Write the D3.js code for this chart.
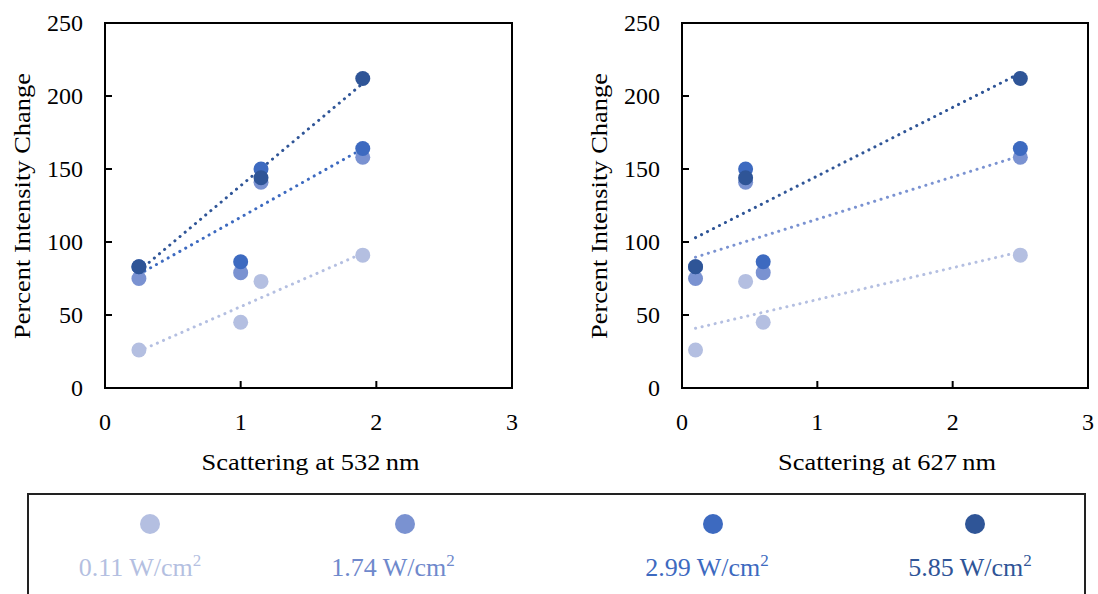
<!DOCTYPE html>
<html>
<head>
  <meta charset="utf-8">
  <script src="https://cdn.jsdelivr.net/npm/d3@7"></script>
  <style>
    body { margin: 0; background: #fff; }
    text { font-family: "Liberation Serif", "Times New Roman", serif; }
  </style>
</head>
<body>
<script>
  // Sample scattering values (x) for each of the four samples
  var x532 = [0.25, 1.0, 1.15, 1.9];
  var x627 = [0.1, 0.6, 0.47, 2.5];

  // Percent intensity change per irradiance (one value per sample)
  var labels = ['0.11', '1.74', '2.99', '5.85'];
  var v011 = [26, 45, 73, 91];
  var v174 = [75, 79, 141, 158];
  var v299 = [83, 86.5, 150, 164];
  var v585 = [83, null, 144, 212];

  var yTicks = [0, 50, 100, 150, 200, 250];
  var xTicks = [0, 1, 2, 3];

  var colors = ['#b4bfe1', '#7a92d1', '#3d6ac0', '#2f5597'];
  var textColors = ['#b4bfe1', '#6f89cc', '#3d6ac0', '#2f5597'];
  var seriesVals = [v011, v174, v299, v585];

  var svg = d3.select('body').append('svg')
    .attr('width', 1098).attr('height', 594);

  svg.append('rect').attr('width', 1098).attr('height', 594).attr('fill', '#fff');

  // least squares line through the non-missing points
  function fit(xs, ys) {
    var pts = xs.map(function(x, i) { return [x, ys[i]]; })
      .filter(function(p) { return p[1] != null; });
    var mx = d3.mean(pts, function(p) { return p[0]; }),
        my = d3.mean(pts, function(p) { return p[1]; });
    var sxy = d3.sum(pts, function(p) { return (p[0] - mx) * (p[1] - my); }),
        sxx = d3.sum(pts, function(p) { return (p[0] - mx) * (p[0] - mx); });
    var b = sxy / sxx, a = my - b * mx;
    var x0 = d3.min(pts, function(p) { return p[0]; }),
        x1 = d3.max(pts, function(p) { return p[0]; });
    return [[x0, a + b * x0], [x1, a + b * x1]];
  }

  function panel(left, right, xs, title, trendSeries) {
    var x = d3.scaleLinear().domain([0, 3]).range([left, right]);
    var y = d3.scaleLinear().domain([0, 250]).range([388, 23]);
    var g = svg.append('g');

    // tick labels
    g.selectAll('.yl').data(yTicks).enter().append('text')
      .attr('x', left - 22).attr('y', function(d) { return y(d) + 8; })
      .attr('text-anchor', 'end').style('font-size', '24px')
      .text(function(d) { return d; });
    g.selectAll('.xl').data(xTicks).enter().append('text')
      .attr('x', function(d) { return x(d); }).attr('y', 430)
      .attr('text-anchor', 'middle').style('font-size', '24px')
      .text(function(d) { return d; });

    // inner ticks
    g.selectAll('.yt').data(yTicks.slice(1, -1)).enter().append('line')
      .attr('x1', left).attr('x2', left + 7)
      .attr('y1', function(d) { return y(d); }).attr('y2', function(d) { return y(d); })
      .attr('stroke', '#000').attr('stroke-width', 2);
    g.selectAll('.xt').data(xTicks.slice(1, -1)).enter().append('line')
      .attr('x1', function(d) { return x(d); }).attr('x2', function(d) { return x(d); })
      .attr('y1', 388).attr('y2', 381)
      .attr('stroke', '#000').attr('stroke-width', 2);

    // axis titles
    g.append('text')
      .attr('transform', 'translate(' + (left - 75) + ',206) rotate(-90)')
      .attr('text-anchor', 'middle').style('font-size', '24px')
      .attr('textLength', 266).attr('lengthAdjust', 'spacingAndGlyphs')
      .text('Percent Intensity Change');
    g.append('text')
      .attr('x', (left + right) / 2 + 2).attr('y', 470)
      .attr('text-anchor', 'middle').style('font-size', '24px')
      .attr('textLength', 218).attr('lengthAdjust', 'spacingAndGlyphs')
      .text(title);

    // trendlines
    trendSeries.forEach(function(si) {
      var line = fit(xs, seriesVals[si]);
      g.append('line')
        .attr('x1', x(line[0][0])).attr('y1', y(line[0][1]))
        .attr('x2', x(line[1][0])).attr('y2', y(line[1][1]))
        .attr('stroke', colors[si]).attr('stroke-width', 3)
        .attr('stroke-linecap', 'round').attr('stroke-dasharray', '0.1 6.6');
    });

    // points
    seriesVals.forEach(function(vals, si) {
      g.selectAll('.p' + si)
        .data(vals.map(function(v, i) { return [xs[i], v]; })
          .filter(function(p) { return p[1] != null; }))
        .enter().append('circle')
        .attr('cx', function(p) { return x(p[0]); })
        .attr('cy', function(p) { return y(p[1]); })
        .attr('r', 7.5).attr('fill', colors[si]);
    });

    // frame
    g.append('rect')
      .attr('x', left).attr('y', 23)
      .attr('width', right - left).attr('height', 365)
      .attr('fill', 'none').attr('stroke', '#000').attr('stroke-width', 2);
  }

  panel(105, 512, x532, 'Scattering at 532\u2009nm', [0, 2, 3]);
  panel(682, 1088, x627, 'Scattering at 627\u2009nm', [0, 1, 3]);

  // legend
  var legX = [150, 405, 713, 975];
  var legTextX = [140, 393, 707, 970];
  svg.append('rect')
    .attr('x', 28).attr('y', 494).attr('width', 1057).attr('height', 120)
    .attr('fill', 'none').attr('stroke', '#222').attr('stroke-width', 2);
  var leg = svg.selectAll('.leg').data(labels).enter().append('g');
  leg.append('circle')
    .attr('cx', function(d, i) { return legX[i]; }).attr('cy', 524)
    .attr('r', 10).attr('fill', function(d, i) { return colors[i]; });
  var lt = leg.append('text')
    .attr('x', function(d, i) { return legTextX[i]; }).attr('y', 576)
    .attr('text-anchor', 'middle').style('font-size', '26px')
    .attr('fill', function(d, i) { return textColors[i]; });
  lt.append('tspan').text(function(d) { return d + ' W/cm'; });
  lt.append('tspan').attr('dy', -10).style('font-size', '17px').text('2');
</script>
</body>
</html>
